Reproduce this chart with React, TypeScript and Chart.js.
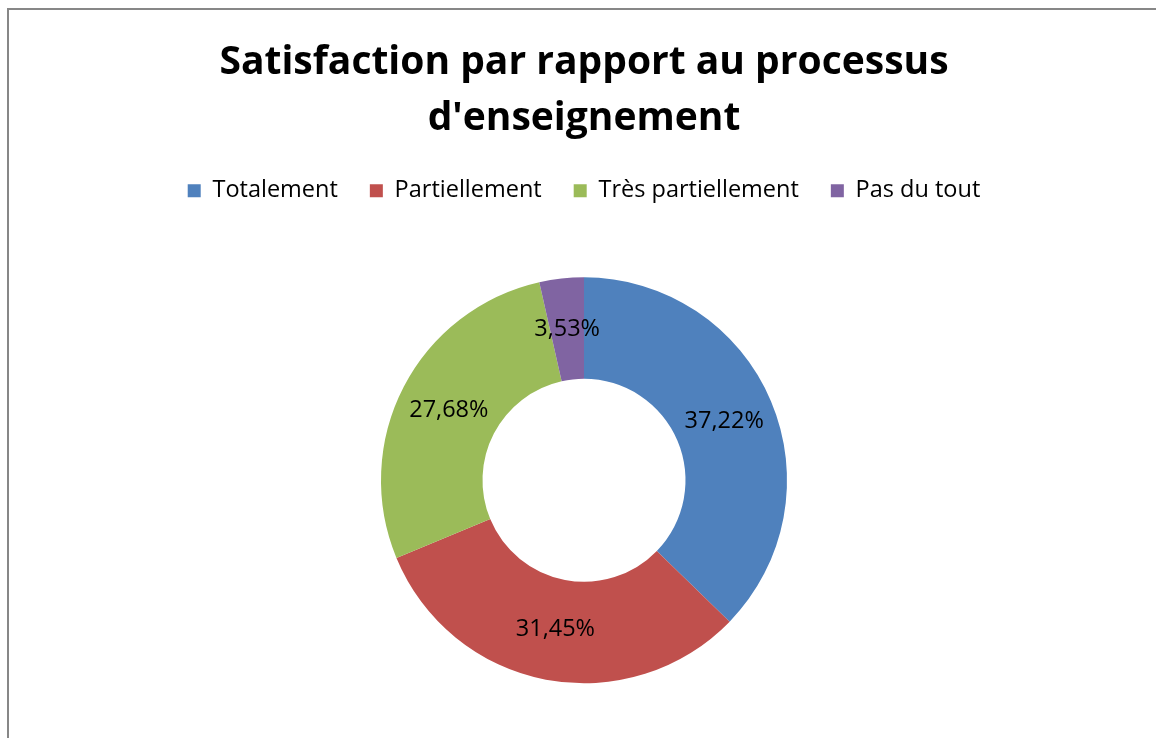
import React, { useEffect, useRef } from "react";
import { Chart, registerables } from "chart.js";

Chart.register(...registerables);

const categories = ["Totalement", "Partiellement", "Très partiellement", "Pas du tout"];
const values = [37.22, 31.45, 27.68, 3.53];
const colors = ["#4F81BD", "#C0504D", "#9BBB59", "#8064A2"];
const titleLines = ["Satisfaction par rapport au processus", "d'enseignement"];

const FONT = "'Open Sans', sans-serif";
const CANVAS_H = 768;

const labelPlugin = {
  id: "sliceLabels",
  afterDatasetsDraw(chart: any) {
    const ctx = chart.ctx;
    const meta = chart.getDatasetMeta(0);
    ctx.save();
    ctx.fillStyle = "#000";
    ctx.font = `23.5px ${FONT}`;
    ctx.textAlign = "center";
    ctx.textBaseline = "middle";
    meta.data.forEach((arc: any, i: number) => {
      const p = arc.tooltipPosition();
      const txt = values[i].toFixed(2).replace(".", ",") + "%";
      ctx.fillText(txt, p.x, p.y);
    });
    ctx.restore();
  },
};

export default function App() {
  const ref = useRef<HTMLCanvasElement | null>(null);
  useEffect(() => {
    document.documentElement.style.overflow = "hidden";
    document.body.style.margin = "0";
    const chart = new Chart(ref.current as HTMLCanvasElement, {
      type: "doughnut",
      data: {
        labels: categories,
        datasets: [
          {
            data: values,
            backgroundColor: colors,
            borderWidth: 0,
          },
        ],
      },
      options: {
        animation: false,
        responsive: false,
        events: [],
        radius: 203,
        cutout: "50%",
        layout: { padding: { left: 12, right: 0, top: 0, bottom: 20 } },
        plugins: {
          tooltip: { enabled: false },
          title: {
            display: true,
            text: titleLines,
            color: "#000",
            font: { family: FONT, size: 39, weight: "bold", lineHeight: 1.436 },
            padding: { top: 35, bottom: 0 },
          },
          legend: {
            display: true,
            position: "top",
            labels: {
              color: "#000",
              boxWidth: 13,
              boxHeight: 13,
              padding: 32,
              font: { family: FONT, size: 23.5 },
            },
          },
        },
      } as any,
      plugins: [labelPlugin],
    });
    return () => chart.destroy();
  }, []);
  return (
    <div style={{ position: "fixed", left: 0, top: 0, width: 1156, height: 738, background: "#fff", overflow: "hidden" }}>
      <div
        style={{
          position: "absolute",
          left: 7,
          top: 8,
          right: 0,
          bottom: 0,
          borderLeft: "2px solid #878787",
          borderTop: "2px solid #878787",
        }}
      />
      <canvas
        ref={ref}
        width={1156}
        height={CANVAS_H}
        style={{ position: "absolute", left: 0, top: 0, width: 1156, height: CANVAS_H }}
      />
    </div>
  );
}
